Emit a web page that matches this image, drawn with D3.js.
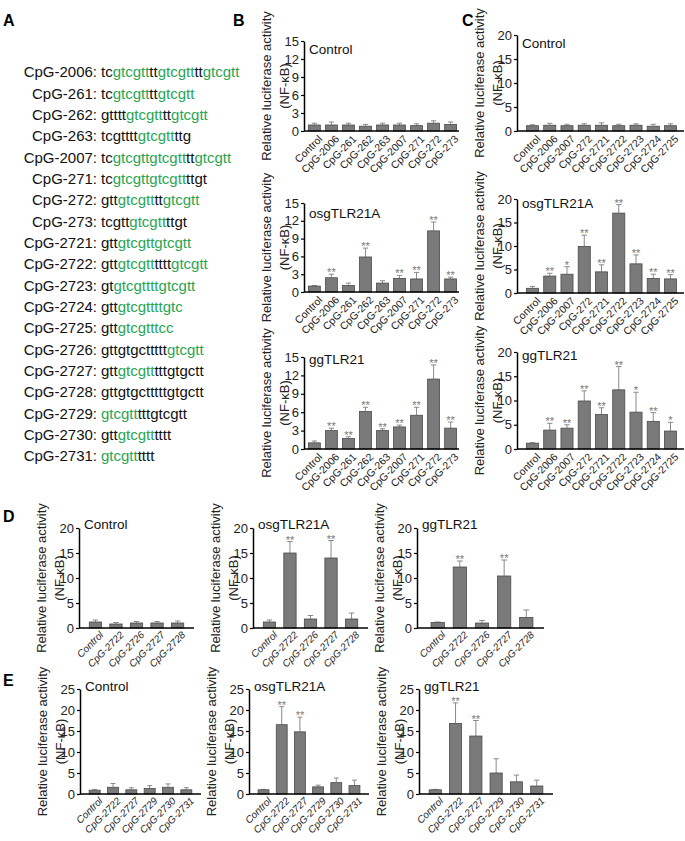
<!DOCTYPE html>
<html>
<head>
<meta charset="utf-8">
<script src="https://cdn.jsdelivr.net/npm/d3@7"></script>
<style>
  body { margin: 0; background: #fff; }
  svg { font-family: "Liberation Sans", Arial, sans-serif; }
</style>
</head>
<body>
<svg id="fig" width="685" height="841"></svg>
<script>
// ---- DATA ----
// panel A: oligo names and sequences ([...] = green motif)
const seqNames = ["CpG-2006", "CpG-261", "CpG-262", "CpG-263", "CpG-2007", "CpG-271", "CpG-272", "CpG-273",
  "CpG-2721", "CpG-2722", "CpG-2723", "CpG-2724", "CpG-2725", "CpG-2726", "CpG-2727", "CpG-2728",
  "CpG-2729", "CpG-2730", "CpG-2731"];
const seqText = [
  "tc[gtcgtt]tt[gtcgtt]tt[gtcgtt]",
  "tc[gtcgtt]tt[gtcgtt]",
  "gtttt[gtcgtt]tt[gtcgtt]",
  "tcgtttt[gtcgtt]ttg",
  "tc[gtcgttgtcgtt]tt[gtcgtt]",
  "tc[gtcgttgtcgtt]ttgt",
  "gtt[gtcgtt]tt[gtcgtt]",
  "tcgtt[gtcgtt]ttgt",
  "gtt[gtcgttgtcgtt]",
  "gtt[gtcgtt]tttt[gtcgtt]",
  "gt[gtcgttttgtcgtt]",
  "gtt[gtcgttttgtc]",
  "gtt[gtcgtttcc]",
  "gttgtgcttttt[gtcgtt]",
  "gtt[gtcgtt]tttgtgctt",
  "gttgtgctttttgtgctt",
  "[gtcgtt]tttgtcgtt",
  "gtt[gtcgtt]tttt",
  "[gtcgtt]tttt"
];

// panel B
const bCats = ["Control", "CpG-2006", "CpG-261", "CpG-262", "CpG-263", "CpG-2007", "CpG-271", "CpG-272", "CpG-273"];
const bTicks = [0, 3, 6, 9, 12, 15];
const bCtrlVals = [1.0, 1.0, 1.0, 0.8, 1.0, 1.0, 0.9, 1.3, 1.1];
const bCtrlErrs = [1.3, 1.5, 1.3, 1.1, 1.3, 1.3, 1.2, 1.7, 1.5];
const bCtrlSig  = ["", "", "", "", "", "", "", "", ""];
const bOsgVals = [1.0, 2.4, 1.1, 5.9, 1.5, 2.3, 2.2, 10.3, 2.2];
const bOsgErrs = [1.1, 3.0, 1.5, 7.4, 1.9, 2.8, 3.3, 11.8, 2.5];
const bOsgSig  = ["", "**", "", "**", "", "**", "**", "**", "**"];
const bGgVals = [1.0, 3.0, 1.7, 6.1, 3.0, 3.6, 5.5, 11.4, 3.4];
const bGgErrs = [1.3, 3.4, 2.0, 6.8, 3.3, 3.9, 6.8, 13.7, 4.4];
const bGgSig  = ["", "**", "**", "**", "**", "**", "**", "**", "**"];

// panel C
const cCats = ["Control", "CpG-2006", "CpG-2007", "CpG-272", "CpG-2721", "CpG-2722", "CpG-2723", "CpG-2724", "CpG-2725"];
const cTicks = [0, 5, 10, 15, 20];
const cCtrlVals = [1.1, 1.2, 1.1, 1.2, 1.2, 1.1, 1.2, 1.0, 1.1];
const cCtrlErrs = [1.3, 1.6, 1.4, 1.5, 1.7, 1.4, 1.5, 1.4, 1.5];
const cCtrlSig  = ["", "", "", "", "", "", "", "", ""];
const cOsgVals = [1.0, 3.6, 4.0, 9.9, 4.5, 17.0, 6.2, 3.1, 3.0];
const cOsgErrs = [1.4, 4.2, 5.6, 12.3, 6.0, 18.8, 8.1, 4.0, 3.9];
const cOsgSig  = ["", "**", "*", "**", "**", "**", "**", "**", "**"];
const cGgVals = [1.2, 3.9, 4.3, 9.9, 7.1, 12.2, 7.6, 5.7, 3.7];
const cGgErrs = [1.3, 5.3, 5.0, 12.0, 8.5, 17.0, 11.7, 7.5, 5.5];
const cGgSig  = ["", "**", "**", "**", "**", "**", "*", "**", "*"];

// panel D
const dCats = ["Control", "CpG-2722", "CpG-2726", "CpG-2727", "CpG-2728"];
const dTicks = [0, 5, 10, 15, 20];
const dCtrlVals = [1.2, 0.8, 1.0, 1.0, 1.0];
const dCtrlErrs = [1.6, 1.1, 1.3, 1.3, 1.4];
const dCtrlSig  = ["", "", "", "", ""];
const dOsgVals = [1.2, 15.0, 1.8, 14.0, 1.8];
const dOsgErrs = [1.6, 17.3, 2.5, 17.5, 3.0];
const dOsgSig  = ["", "**", "", "**", ""];
const dGgVals = [1.1, 12.2, 1.0, 10.4, 2.1];
const dGgErrs = [1.2, 13.4, 1.5, 13.6, 3.6];
const dGgSig  = ["", "**", "", "**", ""];

// panel E
const eCats = ["Control", "CpG-2722", "CpG-2727", "CpG-2729", "CpG-2730", "CpG-2731"];
const eTicks = [0, 5, 10, 15, 20, 25];
const eCtrlVals = [0.9, 1.6, 1.0, 1.3, 1.6, 1.0];
const eCtrlErrs = [1.1, 2.5, 1.5, 2.0, 2.4, 1.5];
const eCtrlSig  = ["", "", "", "", "", ""];
const eOsgVals = [1.0, 16.5, 14.8, 1.7, 2.7, 2.0];
const eOsgErrs = [1.1, 20.8, 18.3, 2.1, 3.8, 3.3];
const eOsgSig  = ["", "**", "**", "", "", ""];
const eGgVals = [1.0, 16.8, 13.8, 5.0, 2.9, 1.9];
const eGgErrs = [1.1, 21.7, 17.5, 8.4, 4.5, 3.3];
const eGgSig  = ["", "**", "**", "", "", ""];

// ---- DRAWING ----
const svg = d3.select("#fig");
const GREEN = "#2aa553";

// panel letters
const letters = [["A", 3, 26], ["B", 233, 26], ["C", 462, 26], ["D", 3, 522], ["E", 3, 686]];
svg.selectAll(".letter").data(letters).join("text")
  .attr("x", d => d[1]).attr("y", d => d[2])
  .attr("font-size", 16).attr("font-weight", "bold")
  .text(d => d[0]);

// panel A sequences
const seqY = d3.scalePoint().domain(seqNames).range([72, 456]);
seqNames.forEach((name, i) => {
  const y = seqY(name);
  svg.append("text")
    .attr("x", 97).attr("y", y).attr("dy", "0.35em")
    .attr("text-anchor", "end").attr("font-size", 15).attr("fill", "#111")
    .text(name + ":");
  const t = svg.append("text")
    .attr("x", 101).attr("y", y).attr("dy", "0.35em")
    .attr("font-size", 15);
  seqText[i].split(/(\[[a-z]+\])/).filter(s => s.length).forEach(s => {
    const green = s.startsWith("[");
    t.append("tspan")
      .attr("fill", green ? GREEN : "#111")
      .text(green ? s.slice(1, -1) : s);
  });
});

function drawPanel(p) {
  const g = svg.append("g");
  const x = d3.scaleBand().domain(p.cats)
    .range([p.bandL, p.bandR]).paddingInner(p.pi).paddingOuter(p.po);
  const y = d3.scaleLinear().domain([0, d3.max(p.ticks)]).range([p.bottom, p.top]);
  const bw = x.bandwidth();
  const cx = d => x(d) + bw / 2;
  const rows = p.cats.map((c, i) => ({ c, v: p.vals[i], e: p.errs[i], s: p.sig[i] }));

  // error bars
  g.selectAll(".err").data(rows).join("line")
    .attr("x1", d => cx(d.c)).attr("x2", d => cx(d.c))
    .attr("y1", d => y(d.v)).attr("y2", d => y(d.e))
    .attr("stroke", "#8a8a8a").attr("stroke-width", 1);
  g.selectAll(".cap").data(rows).join("line")
    .attr("x1", d => cx(d.c) - bw * 0.22).attr("x2", d => cx(d.c) + bw * 0.22)
    .attr("y1", d => y(d.e)).attr("y2", d => y(d.e))
    .attr("stroke", "#8a8a8a").attr("stroke-width", 1);

  // bars
  g.selectAll(".bar").data(rows).join("rect")
    .attr("x", d => x(d.c)).attr("width", bw)
    .attr("y", d => y(d.v)).attr("height", d => y(0) - y(d.v))
    .attr("fill", "#7a7a7a").attr("stroke", "#4a4a4a").attr("stroke-width", 0.8);

  // significance stars
  g.selectAll(".sig").data(rows.filter(d => d.s)).join("text")
    .attr("x", d => cx(d.c)).attr("y", d => y(d.e) + 2)
    .attr("text-anchor", "middle").attr("font-size", 11).attr("fill", "#777")
    .text(d => d.s);

  // y axis
  const ya = g.append("g").attr("transform", `translate(${p.left},0)`)
    .call(d3.axisLeft(y).tickValues(p.ticks).tickSize(3).tickSizeOuter(0).tickPadding(2));
  ya.select(".domain").attr("stroke", "#000").attr("stroke-width", 1.5);
  ya.selectAll(".tick line").attr("stroke", "#000").attr("stroke-width", 1.2);
  ya.selectAll(".tick text").attr("font-size", 13).attr("fill", "#222")
    .attr("font-family", "Liberation Sans, Arial, sans-serif");

  // x axis
  const xa = g.append("g").attr("transform", `translate(0,${p.bottom})`)
    .call(d3.axisBottom(x).tickSize(0).tickSizeOuter(0));
  xa.select(".domain").remove();
  g.append("line")
    .attr("x1", p.left).attr("x2", p.right)
    .attr("y1", p.bottom).attr("y2", p.bottom)
    .attr("stroke", "#000").attr("stroke-width", 1.5);
  xa.selectAll(".tick text")
    .attr("font-size", p.xFont).attr("fill", "#222")
    .attr("font-style", p.italic ? "italic" : "normal")
    .attr("font-family", "Liberation Sans, Arial, sans-serif")
    .attr("text-anchor", "end").attr("x", 0).attr("y", 0).attr("dy", "0.35em")
    .attr("transform", `translate(${p.xlDx},${p.xlDy}) rotate(${p.angle})`);

  // y label
  const mid = (p.top + p.bottom) / 2;
  [["Relative luciferase activity", -38], ["(NF-\u03BAB)", -20]].forEach(([txt, off]) => {
    g.append("text")
      .attr("transform", `translate(${p.left + off},${mid}) rotate(-90)`)
      .attr("text-anchor", "middle").attr("dy", "0.35em")
      .attr("font-size", 13).attr("fill", "#222")
      .text(txt);
  });

  // title
  g.append("text")
    .attr("x", p.left + 5).attr("y", p.top + p.titleDy).attr("dy", "0.35em")
    .attr("font-size", 13.5).attr("fill", "#111")
    .text(p.title);
}

const bBase = { cats: bCats, ticks: bTicks, left: 304, right: 459, bandL: 305, bandR: 460, pi: 0.3, po: 0.2,
  xFont: 10.5, italic: false, angle: -45, xlDx: 6, xlDy: 6 };
const cBase = { cats: cCats, ticks: cTicks, left: 517, right: 684, bandL: 523, bandR: 680, pi: 0.3, po: 0.2,
  xFont: 10.5, italic: false, angle: -45, xlDx: 6, xlDy: 6 };
const dBase = { cats: dCats, ticks: dTicks, top: 528, bottom: 628, pi: 0.4, po: 0.5,
  xFont: 10, italic: true, angle: -45, xlDx: 6, xlDy: 5, titleDy: -4 };
const eBase = { cats: eCats, ticks: eTicks, top: 689, bottom: 794, pi: 0.4, po: 0.5,
  xFont: 10, italic: true, angle: -45, xlDx: 6, xlDy: 5, titleDy: -3 };

drawPanel({ ...bBase, top: 41, bottom: 131, vals: bCtrlVals, errs: bCtrlErrs, sig: bCtrlSig, title: "Control", titleDy: 8 });
drawPanel({ ...bBase, top: 203, bottom: 292, vals: bOsgVals, errs: bOsgErrs, sig: bOsgSig, title: "osgTLR21A", titleDy: 10 });
drawPanel({ ...bBase, top: 357, bottom: 449, vals: bGgVals, errs: bGgErrs, sig: bGgSig, title: "ggTLR21", titleDy: 2 });

drawPanel({ ...cBase, top: 35, bottom: 131, vals: cCtrlVals, errs: cCtrlErrs, sig: cCtrlSig, title: "Control", titleDy: 8 });
drawPanel({ ...cBase, top: 199, bottom: 293, vals: cOsgVals, errs: cOsgErrs, sig: cOsgSig, title: "osgTLR21A", titleDy: 4 });
drawPanel({ ...cBase, top: 352, bottom: 449, vals: cGgVals, errs: cGgErrs, sig: cGgSig, title: "ggTLR21", titleDy: 3 });

drawPanel({ ...dBase, left: 79, right: 194, bandL: 79, bandR: 194, vals: dCtrlVals, errs: dCtrlErrs, sig: dCtrlSig, title: "Control" });
drawPanel({ ...dBase, left: 253, right: 368, bandL: 253, bandR: 368, vals: dOsgVals, errs: dOsgErrs, sig: dOsgSig, title: "osgTLR21A" });
drawPanel({ ...dBase, left: 417, right: 544, bandL: 420, bandR: 544, vals: dGgVals, errs: dGgErrs, sig: dGgSig, title: "ggTLR21" });

drawPanel({ ...eBase, left: 80, right: 201, bandL: 80, bandR: 201, vals: eCtrlVals, errs: eCtrlErrs, sig: eCtrlSig, title: "Control" });
drawPanel({ ...eBase, left: 249, right: 369, bandL: 249, bandR: 369, vals: eOsgVals, errs: eOsgErrs, sig: eOsgSig, title: "osgTLR21A" });
drawPanel({ ...eBase, left: 419, right: 553, bandL: 419, bandR: 553, vals: eGgVals, errs: eGgErrs, sig: eGgSig, title: "ggTLR21" });
</script>
</body>
</html>
